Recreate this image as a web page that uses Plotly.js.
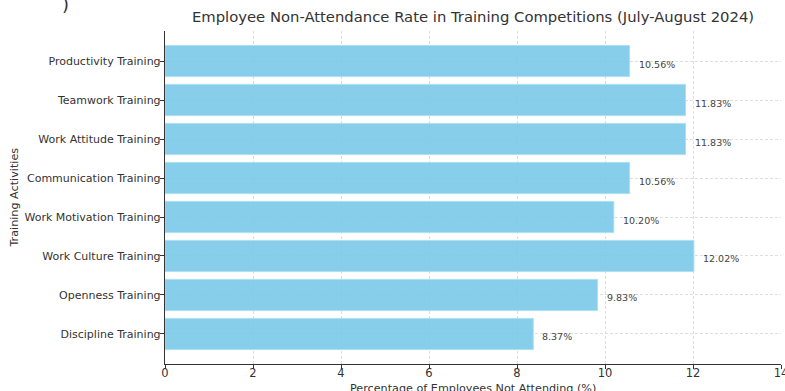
<!DOCTYPE html>
<html>
<head>
<meta charset="utf-8">
<script src="https://cdn.plot.ly/plotly-3.0.1.min.js"></script>
<style>html,body{margin:0;padding:0;background:#fff;}#chart{width:785px;height:391px;}</style>
</head>
<body>
<div id="chart"></div>
<script>
// Bottom to top
var categories = ["Discipline Training","Openness Training","Work Culture Training","Work Motivation Training","Communication Training","Work Attitude Training","Teamwork Training","Productivity Training"];
var rates = [8.37, 9.83, 12.02, 10.20, 10.56, 11.83, 11.83, 10.56];
var rateLabels = ["8.37%","9.83%","12.02%","10.20%","10.56%","11.83%","11.83%","10.56%"];
var xTicks = [0,2,4,6,8,10,12,14];

var font = "DejaVu Sans, sans-serif";
var trace = {
  type: "bar",
  orientation: "h",
  x: rates,
  y: categories,
  width: 0.8,
  marker: {color: "rgba(122,201,233,0.9)", line: {color: "rgba(170,222,243,0.9)", width: 1}},
  hoverinfo: "skip"
};

var annotations = rates.map(function(v, i){
  return {x: v, y: categories[i], xref: "x", yref: "y", text: rateLabels[i], showarrow: false,
    xanchor: "left", yanchor: "middle", xshift: 7, yshift: -3,
    font: {family: font, size: 9.5, color: "#444"}};
});
annotations.push({xref: "paper", yref: "paper", x: -0.162, y: 1.08, text: ")", showarrow: false,
  xanchor: "center", yanchor: "middle", font: {family: font, size: 18, color: "#333"}});
annotations.push({xref: "paper", yref: "paper", x: 0.5, y: -0.074, text: "Percentage of Employees Not Attending (%)",
  showarrow: false, xanchor: "center", yanchor: "middle", font: {family: font, size: 11.2, color: "#333"}});
annotations.push({xref: "paper", yref: "paper", x: -0.245, y: 0.5, text: "Training Activities", textangle: -90,
  showarrow: false, xanchor: "center", yanchor: "middle", font: {family: font, size: 11.2, color: "#333"}});

var layout = {
  width: 785, height: 391,
  margin: {l: 165, r: 4, t: 31, b: 27, pad: 0},
  paper_bgcolor: "#fff", plot_bgcolor: "#fff",
  showlegend: false,
  title: {text: "Employee Non-Attendance Rate in Training Competitions (July-August 2024)",
    font: {family: font, size: 14.8, color: "#333"}, x: 0.5, xref: "paper", xanchor: "center",
    y: 1, yref: "container", yanchor: "top", pad: {t: 12}},
  xaxis: {range: [0, 14], tickvals: xTicks, ticktext: xTicks.map(String),
    showline: true, linecolor: "#333", linewidth: 1.2, mirror: false,
    ticks: "outside", ticklen: 4, tickcolor: "#333", tickwidth: 1,
    showgrid: true, gridcolor: "#d6d6d6", gridwidth: 0.8, griddash: "3px,2px",
    zeroline: false, tickfont: {family: font, size: 11.5, color: "#333"},
    ticklabelstandoff: -6, ticklabeloverflow: "allow",
    automargin: false, fixedrange: true},
  yaxis: {type: "category", categoryorder: "array", categoryarray: categories,
    range: [-0.77, 7.77],
    showline: true, linecolor: "#333", linewidth: 1.2, mirror: false,
    ticks: "outside", ticklen: 4, tickcolor: "#333", tickwidth: 1,
    showgrid: true, gridcolor: "#d6d6d6", gridwidth: 0.8, griddash: "3px,2px",
    zeroline: false, tickfont: {family: font, size: 11, color: "#333"},
    ticklabelstandoff: -3,
    automargin: false, fixedrange: true},
  annotations: annotations,
  bargap: 0.2
};

Plotly.newPlot("chart", [trace], layout, {displayModeBar: false, staticPlot: true});
</script>
</body>
</html>
